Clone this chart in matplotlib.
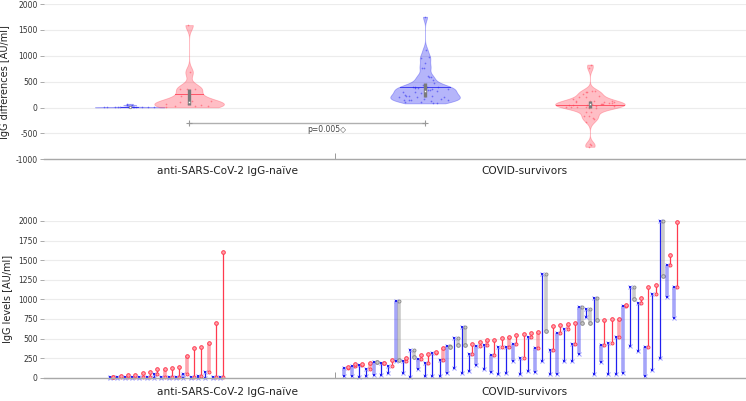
import numpy as np
import matplotlib.pyplot as plt

plt.rcParams['font.family'] = 'DejaVu Sans'
plt.rcParams['axes.unicode_minus'] = False

groups = ['anti-SARS-CoV-2 IgG-naïve', 'COVID-survivors']
p_label = 'p=0.005\u25c7'

# IgG levels [AU/ml] per subject: baseline, after 1st dose, after 2nd dose
naive_t0 = [0, 0, 0, 0, 0, 0, 0, 0, 0, 0, 0, 0, 0, 0, 0, 0]
naive_t1 = [3, 3, 5, 3, 5, 5, 50, 5, 5, 5, 48, 10, 20, 72, 12, 8]
naive_t2 = [8, 25, 34, 38, 64, 77, 106, 111, 123, 132, 272, 374, 387, 438, 694, 1600]
naive_thick1 = [0, 0, 0, 0, 0, 0, 0, 0, 0, 0, 1, 0, 0, 0, 0, 0]
naive_thick2 = [0, 0, 0, 0, 0, 0, 0, 1, 0, 0, 1, 0, 0, 1, 0, 0]

covid_t0 = [25, 25, 13, 25, 34, 34, 60, 213, 60, 13, 106, 17, 25, 25, 55, 128,
            60, 85, 166, 106, 72, 47, 60, 213, 47, 89, 77, 213, 47, 47, 217, 217,
            306, 770, 47, 204, 43, 43, 60, 404, 336, 25, 98, 247, 1034, 766]
covid_t1 = [128, 153, 166, 106, 200, 183, 153, 983, 213, 349, 243, 187, 315, 221,
            404, 511, 643, 302, 408, 421, 285, 396, 396, 434, 251, 523, 374, 1323,
            349, 574, 617, 434, 898, 872, 1013, 421, 447, 523, 919, 1162, 953, 396,
            1068, 2000, 1438, 1162]
covid_t2 = [140, 175, 179, 187, 196, 187, 221, 225, 247, 264, 285, 302, 332, 383,
            396, 417, 421, 430, 451, 485, 485, 506, 523, 545, 562, 574, 587, 600,
            655, 668, 685, 694, 694, 702, 732, 736, 749, 749, 932, 1004, 1013, 1153,
            1187, 1294, 1570, 1991]
covid_thick1 = [1, 1, 0, 0, 1, 0, 0, 1, 0, 0, 1, 0, 0, 0, 1, 0, 0, 0, 1, 0, 1, 0, 0,
                1, 0, 0, 1, 0, 0, 1, 0, 0, 1, 0, 0, 1, 0, 0, 1, 0, 0, 1, 0, 0, 1, 1]
covid_thick2 = [0, 0, 0, 1, 0, 0, 0, 0, 1, 0, 0, 0, 0, 1, 0, 0, 0, 0, 0, 1, 0, 0, 1,
                0, 0, 0, 1, 0, 0, 0, 1, 0, 0, 0, 0, 0, 0, 1, 0, 0, 0, 0, 0, 0, 0, 0]

BLUE = '#2020f0'
RED = '#ff3a4f'
GRAY = '#8a8a8a'
LIGHT_RED = '#ffa3ad'
LIGHT_BLUE = '#9a9aff'


def style_axis(ax, ylim, yticks, ylabel, label_pad):
    ax.set_xlim(0, 95.8)
    ax.set_ylim(*ylim)
    ax.set_yticks(yticks)
    ax.set_yticklabels([str(t) for t in yticks])
    ax.yaxis.grid(True, color='#ececec', lw=0.8)
    ax.set_axisbelow(True)
    for side in ['top', 'right', 'left']:
        ax.spines[side].set_visible(False)
    ax.spines['bottom'].set_color('#a8a8a8')
    ax.spines['bottom'].set_linewidth(1.0)
    ax.tick_params(axis='y', direction='out', length=3, width=0.7, color='#aaaaaa',
                   labelsize=5.5, labelcolor='#333333', pad=1.5)
    ax.set_xticks([25, 65.5])
    ax.set_xticklabels(groups)
    ax.tick_params(axis='x', length=0, labelsize=7.6, labelcolor='#222222', pad=label_pad)
    ax.set_xticks([39.7], minor=True)
    ax.tick_params(axis='x', which='minor', direction='in', length=4.5, width=0.7, color='#999999')
    ax.set_ylabel(ylabel, fontsize=7, color='#222222', labelpad=4)


def half_width(body, pos, y):
    verts = body.get_paths()[0].vertices
    right = verts[verts[:, 0] >= pos]
    right = right[np.argsort(right[:, 1])]
    return np.interp(y, right[:, 1], right[:, 0] - pos)


def draw_violin(ax, values, pos, color):
    values = np.asarray(values, dtype=float)
    parts = ax.violinplot(values, positions=[pos], widths=9.5, bw_method=0.23,
                          showextrema=False, points=300)
    body = parts['bodies'][0]
    body.set_facecolor(color)
    body.set_edgecolor(color)
    body.set_alpha(0.33)
    body.set_linewidth(0.6)

    # jittered points, spread inside the violin
    for k, v in enumerate(values):
        j = ((k * 0.6180339) % 1.0) * 2 - 1
        hw = half_width(body, pos, v)
        ax.plot(pos + j * hw * 0.8, v, 'o', ms=1.2, color=color, alpha=0.5, mew=0)

    mean = values.mean()
    hw = half_width(body, pos, mean)
    ax.plot([pos - hw, pos + hw], [mean, mean], color=color, lw=0.7, alpha=0.8)

    q1, med, q3 = np.percentile(values, [25, 50, 75])
    ax.plot([pos, pos], [q1, q3], color='#7a7a7a', lw=2.4, solid_capstyle='butt')
    ax.plot(pos, med, 'o', ms=1.8, mfc='white', mec='#7a7a7a', mew=0.5)


def draw_levels(ax, x0, t0, t1, t2, thick1, thick2):
    for k in range(len(t0)):
        x = x0 + k
        if thick1[k]:
            ax.plot([x, x], [t0[k], t1[k]], color=BLUE, lw=2.6, alpha=0.4, solid_capstyle='butt')
        else:
            ax.plot([x, x], [t0[k], t1[k]], color=BLUE, lw=0.9)
        ax.plot([x, x], [t0[k], t1[k]], 'x', ms=3, color=LIGHT_BLUE, mew=0.7)
        ax.plot([x, x], [t0[k], t1[k]], 's', ms=1.7, color=BLUE, mew=0)

        x2 = x + 0.45
        if t2[k] >= t1[k]:
            col, light = RED, LIGHT_RED
        else:
            col, light = GRAY, '#c8c8c8'
        if thick2[k] or col == GRAY:
            ax.plot([x2, x2], [t1[k], t2[k]], color=col, lw=2.6, alpha=0.45, solid_capstyle='butt')
        else:
            ax.plot([x2, x2], [t1[k], t2[k]], color=col, lw=0.9)
        ax.plot(x2, t1[k], 'o', ms=2.2, mfc=light, mec=col, mew=0.6)
        ax.plot(x2, t2[k], 'o', ms=2.6, mfc=light, mec=col, mew=0.7)


fig = plt.figure(figsize=(7.46, 4.01), dpi=100)
ax1 = fig.add_axes([0.059, 0.6027, 0.941, 0.3873])
ax2 = fig.add_axes([0.059, 0.0581, 0.941, 0.3908])

# top: differences between time points
naive_d1 = np.array(naive_t1) - np.array(naive_t0)
naive_d2 = np.array(naive_t2) - np.array(naive_t1)
covid_d1 = np.array(covid_t1) - np.array(covid_t0)
covid_d2 = np.array(covid_t2) - np.array(covid_t1)

draw_violin(ax1, naive_d1, 11.7, BLUE)
draw_violin(ax1, naive_d2, 19.8, RED)
draw_violin(ax1, covid_d1, 52, BLUE)
draw_violin(ax1, covid_d2, 74.5, RED)

ax1.plot([19.8, 52], [-290, -290], color='#b0b0b0', lw=1)
ax1.plot([19.8, 52], [-290, -290], '+', ms=5, color='#999999', mew=0.8)
ax1.text(35.9, -330, p_label, ha='left', va='top', fontsize=5.5, color='#444444')

style_axis(ax1, (-1000, 2000), [-1000, -500, 0, 500, 1000, 1500, 2000],
           'IgG differences [AU/ml]', 5)

# bottom: IgG levels per subject
draw_levels(ax2, 9, naive_t0, naive_t1, naive_t2, naive_thick1, naive_thick2)
draw_levels(ax2, 41, covid_t0, covid_t1, covid_t2, covid_thick1, covid_thick2)
style_axis(ax2, (0, 2000), list(range(0, 2001, 250)), 'IgG levels [AU/ml]', 7)
for line in ax2.lines:
    line.set_clip_on(False)

fig.savefig('out.png', dpi=100)
